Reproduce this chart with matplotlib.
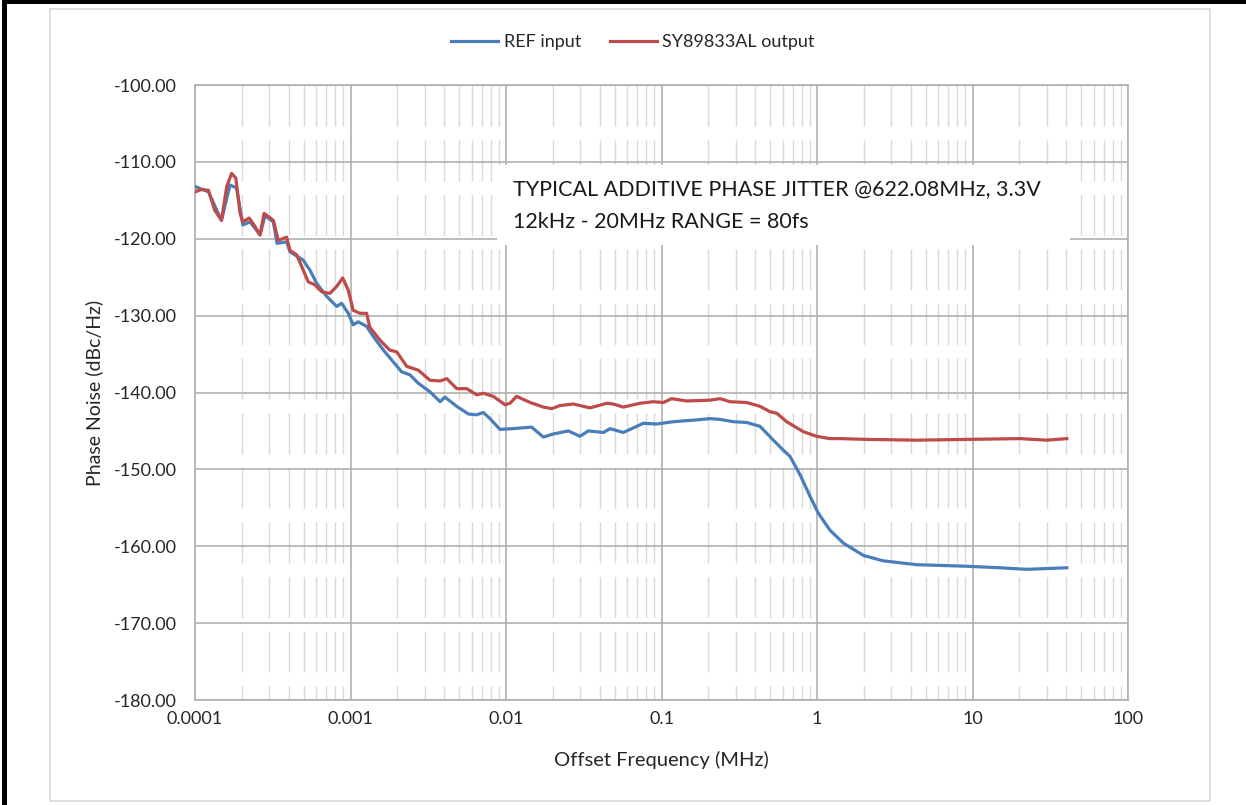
import numpy as np
import matplotlib
matplotlib.use("Agg")
import matplotlib.pyplot as plt
from matplotlib.ticker import LogLocator, FixedLocator, FuncFormatter, NullFormatter
from matplotlib.patches import Rectangle

plt.rcParams['font.family'] = ['Lato', 'DejaVu Sans']
plt.rcParams['lines.scale_dashes'] = False

# offset frequency (MHz) and phase noise (dBc/Hz)
ref_freq = [1.00e-4, 1.22e-4, 1.48e-4, 1.68e-4, 1.85e-4, 2.03e-4, 2.26e-4, 2.62e-4,
            2.82e-4, 3.19e-4, 3.37e-4, 3.89e-4, 4.08e-4, 4.97e-4, 5.49e-4, 6.06e-4,
            7.03e-4, 8.15e-4, 8.78e-4, 9.68e-4, 1.04e-3, 1.12e-3, 1.27e-3, 1.40e-3,
            1.63e-3, 1.88e-3, 2.13e-3, 2.41e-3, 2.73e-3, 3.24e-3, 3.77e-3, 4.05e-3,
            4.82e-3, 5.73e-3, 6.48e-3, 7.15e-3, 7.89e-3, 9.14e-3, 1.11e-2, 1.46e-2,
            1.74e-2, 2.01e-2, 2.52e-2, 2.99e-2, 3.38e-2, 4.23e-2, 4.67e-2, 5.68e-2,
            6.93e-2, 7.64e-2, 9.31e-2, 0.119, 0.160, 0.205, 0.238, 0.290, 0.353,
            0.430, 0.524, 0.607, 0.670, 0.778, 0.902, 1.02, 1.21, 1.48, 1.99, 2.67,
            4.38, 9.18, 15.0, 22.3, 30.0, 40.4]
ref_noise = [-113.2, -113.9, -117.6, -113.0, -113.4, -118.2, -117.8, -119.5,
             -117.0, -117.8, -120.6, -120.4, -121.7, -122.8, -124.1, -125.8,
             -127.5, -128.8, -128.4, -129.7, -131.2, -130.8, -131.4, -132.7,
             -134.5, -136.0, -137.3, -137.7, -138.8, -139.9, -141.2, -140.6,
             -141.8, -142.8, -142.9, -142.6, -143.4, -144.8, -144.7, -144.5,
             -145.8, -145.4, -145.0, -145.7, -145.0, -145.2, -144.7, -145.2,
             -144.4, -144.0, -144.1, -143.8, -143.6, -143.4, -143.5, -143.8, -143.9,
             -144.4, -146.2, -147.5, -148.3, -150.7, -153.5, -155.7, -157.9, -159.6,
             -161.2, -161.9, -162.4, -162.6, -162.8, -163.0, -162.9, -162.8]

out_freq = [1.00e-4, 1.10e-4, 1.22e-4, 1.34e-4, 1.48e-4, 1.60e-4, 1.72e-4, 1.83e-4,
            1.95e-4, 2.03e-4, 2.23e-4, 2.43e-4, 2.62e-4, 2.78e-4, 3.19e-4, 3.43e-4,
            3.89e-4, 4.08e-4, 4.51e-4, 4.85e-4, 5.35e-4, 5.91e-4, 6.53e-4, 7.38e-4,
            8.15e-4, 8.91e-4, 9.68e-4, 1.04e-3, 1.15e-3, 1.27e-3, 1.33e-3, 1.55e-3,
            1.79e-3, 1.98e-3, 2.30e-3, 2.73e-3, 3.24e-3, 3.77e-3, 4.16e-3, 4.82e-3,
            5.59e-3, 6.48e-3, 7.15e-3, 8.28e-3, 9.86e-3, 1.06e-2, 1.17e-2, 1.43e-2,
            1.74e-2, 1.97e-2, 2.22e-2, 2.71e-2, 3.47e-2, 4.45e-2, 4.90e-2, 5.68e-2,
            7.27e-2, 8.86e-2, 0.103, 0.116, 0.145, 0.205, 0.238, 0.276, 0.353, 0.430,
            0.499, 0.551, 0.638, 0.817, 0.995, 1.21, 1.41, 2.09, 4.38, 9.18, 20.2,
            30.0, 40.4]
out_noise = [-113.9, -113.6, -113.7, -116.3, -117.6, -113.2, -111.5, -112.1,
             -116.7, -117.8, -117.3, -118.4, -119.5, -116.7, -117.6, -120.2,
             -119.8, -121.5, -122.1, -123.6, -125.6, -126.0, -126.9, -127.1,
             -126.2, -125.1, -126.7, -129.3, -129.7, -129.7, -131.5, -133.2,
             -134.5, -134.7, -136.6, -137.1, -138.4, -138.5, -138.2, -139.5,
             -139.5, -140.3, -140.1, -140.5, -141.6, -141.4, -140.5, -141.3,
             -141.9, -142.1, -141.7, -141.5, -142.0, -141.4, -141.5, -141.9,
             -141.4, -141.2, -141.3, -140.8, -141.1, -141.0, -140.8, -141.2, -141.3, -141.8,
             -142.5, -142.7, -143.8, -145.1, -145.7, -146.0, -146.0, -146.1, -146.2, -146.1, -146.0,
             -146.2, -146.0]

x_ticks = [1e-4, 1e-3, 1e-2, 1e-1, 1, 10, 100]
x_labels = ['0.0001', '0.001', '0.01', '0.1', '1', '10', '100']
y_ticks = [-180, -170, -160, -150, -140, -130, -120, -110, -100]

note = "TYPICAL ADDITIVE PHASE JITTER @622.08MHz, 3.3V\n12kHz - 20MHz RANGE = 80fs"

W, H = 1246, 805
fig = plt.figure(figsize=(W / 100, H / 100), dpi=100)
ax = fig.add_axes([195 / W, 1 - 700 / H, 933 / W, 615 / H])

ax.plot(ref_freq, ref_noise, color='#4A7EBB', lw=2.3, label='REF input', zorder=4)
ax.plot(out_freq, out_noise, color='#BE4B48', lw=2.3, label='SY89833AL output', zorder=4)

ax.set_xscale('log')
ax.set_xlim(1e-4, 100)
ax.set_ylim(-180, -100)
ax.xaxis.set_major_locator(FixedLocator(x_ticks))
ax.xaxis.set_major_formatter(FuncFormatter(lambda v, p: x_labels[x_ticks.index(v)] if v in x_ticks else ''))
ax.xaxis.set_minor_locator(LogLocator(base=10, subs=np.arange(2, 10), numticks=100))
ax.xaxis.set_minor_formatter(NullFormatter())
ax.set_yticks(y_ticks)
ax.set_yticklabels([f"{v:.2f}" for v in y_ticks])

ax.grid(which='major', color='#B0B0B0', lw=1.2, zorder=1)
ax.grid(which='minor', axis='x', color='#D9D9D9', lw=1.0,
        linestyle=(19.2, (29.5, 9.8)), zorder=1)
ax.set_axisbelow(True)
for s in ax.spines.values():
    s.set_color('#B0B0B0')
    s.set_linewidth(1.2)
ax.tick_params(which='both', length=0, labelsize=13, colors='#262626')
ax.tick_params(axis='y', pad=13)
ax.tick_params(axis='x', pad=8)

ax.set_ylabel('Phase Noise (dBc/Hz)', fontsize=14, color='#262626', labelpad=8)
ax.set_xlabel('Offset Frequency (MHz)', fontsize=14.5, color='#262626', labelpad=17)

# white box behind the annotation
ax.add_patch(Rectangle((302 / 933, 455 / 615), 573 / 933, 80 / 615,
                       transform=ax.transAxes, facecolor='white', edgecolor='none', zorder=2))
ax.text(318 / 933, 494 / 615, note, transform=ax.transAxes, fontsize=15.5,
        color='#1A1A1A', va='center', ha='left', linespacing=1.75, zorder=3)

ax.legend(loc='center', bbox_to_anchor=(633 / W, 1 - 42 / H), bbox_transform=fig.transFigure,
          ncol=2, frameon=False, fontsize=13, handlelength=2.6, columnspacing=1.6,
          handletextpad=0.3, labelcolor='#262626')

# chart area frame and outer black border
fig.patches.append(Rectangle((50 / W, 1 - 801 / H), 1160 / W, 792 / H, transform=fig.transFigure,
                             facecolor='none', edgecolor='#D9D9D9', lw=1.2))
fig.patches.append(Rectangle((4 / W, -0.05), 1.2, 1.05 - 1.5 / H, transform=fig.transFigure,
                             facecolor='none', edgecolor='black', lw=3.6))

fig.savefig('out.png', dpi=100)
